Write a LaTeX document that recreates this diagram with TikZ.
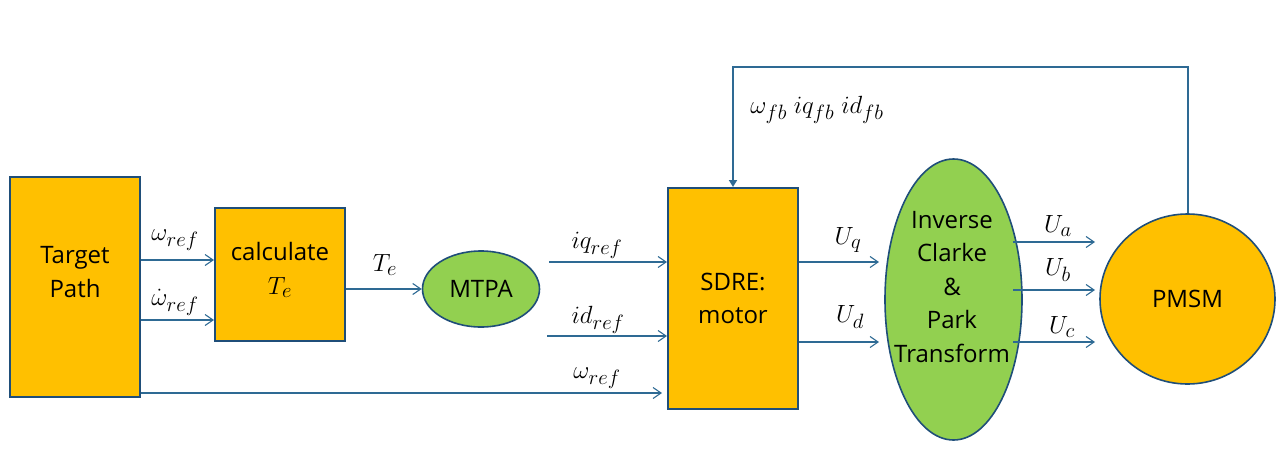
\documentclass[tikz,border=0pt]{standalone}
\usepackage{fontspec}
\setsansfont{Open Sans}
\usetikzlibrary{arrows.meta,shapes.geometric}
\definecolor{orng}{HTML}{FFC000}
\definecolor{grn}{HTML}{92D050}
\definecolor{navy}{HTML}{1F4E79}
\definecolor{arrc}{HTML}{2E6A94}
\begin{document}
\begin{tikzpicture}[x=1pt,y=-1pt,
  font=\sffamily\fontsize{24}{33.5}\selectfont,
  box/.style={draw=navy, line width=2pt, fill=orng, inner sep=0pt, align=center},
  oval/.style={ellipse, draw=navy, line width=1.6pt, inner sep=0pt, align=center},
  txt/.style={inner sep=0pt, align=center},
  arr/.style={draw=arrc, line width=1.1pt, -{Straight Barb[length=8pt,width=11pt]}},
  fbline/.style={draw=arrc, line width=2pt, -{Triangle[length=7pt,width=8pt]}},
  lbl/.style={inner sep=0pt, font=\Huge}]
\useasboundingbox (0,0) rectangle (1288,453);

% blocks
\node[box, minimum width=130pt, minimum height=220pt] (tp) at (75,287) {};
\node[txt] (tptext) at (75,272) {Target\\Path};
\node[box, minimum width=130pt, minimum height=133pt] (calc) at (280,274.5) {};
\node[txt] (calctext) at (280,270) {calculate\\{\Huge$T_e$}};
\node[oval, fill=grn, minimum width=117pt, minimum height=76pt] (mtpa) at (481,289) {MTPA};
\node[box, minimum width=130pt, minimum height=221pt] (sdre) at (733,298.5) {SDRE:\\motor};
\node[oval, fill=grn, minimum width=137pt, minimum height=281pt] (inv) at (953.5,299.5) {};
\node[txt] (invtext) at (952,287) {Inverse\\Clarke\\\&\\Park\\Transform};
\node[oval, fill=orng, minimum width=175pt, minimum height=170pt] (pmsm) at (1187.5,299) {PMSM};

% helper coordinates
\coordinate (r1) at (0,260);
\coordinate (r2) at (0,320);
\coordinate (w3end) at (662,393);
\coordinate (iqs) at (549,262);
\coordinate (ids) at (547,336);
\coordinate (uqe) at (879,262);
\coordinate (ude) at (879,342);
\coordinate (uas) at (1013,242);
\coordinate (ubs) at (1013,290);
\coordinate (ucs) at (1013,342);
\coordinate (uae) at (1095,242);
\coordinate (ube) at (1095,290);
\coordinate (uce) at (1095,342);

% connectors
\draw[arr] (tp.east |- r1) -- (calc.west |- r1);
\draw[arr] (tp.east |- r2) -- (calc.west |- r2);
\draw[arr] (tp.east |- w3end) -- (w3end);
\draw[arr] (calc.east |- mtpa) -- (mtpa.west);
\draw[arr] (iqs) -- (sdre.west |- iqs);
\draw[arr] (ids) -- (sdre.west |- ids);
\draw[arr] (sdre.east |- uqe) -- (uqe);
\draw[arr] (sdre.east |- ude) -- (ude);
\draw[arr] (uas) -- (uae);
\draw[arr] (ubs) -- (ube);
\draw[arr] (ucs) -- (uce);
\draw[fbline] (pmsm.north) -- ++(0,-146) -| (sdre.north);

% labels
\node[lbl] (l1) at (175,240) {$\omega_{ref}$};
\node[lbl] (l2) at (175,302) {$\dot\omega_{ref}$};
\node[lbl] (l3) at (385,265) {$T_e$};
\node[lbl] (l4) at (597,245) {$iq_{ref}$};
\node[lbl] (l5) at (598,320) {$id_{ref}$};
\node[lbl] (l6) at (597,378) {$\omega_{ref}$};
\node[lbl] (l7) at (848,240) {$U_q$};
\node[lbl] (l8) at (850,317) {$U_d$};
\node[lbl] (l9) at (817,110) {$\omega_{fb}\; iq_{fb}\; id_{fb}$};
\node[lbl] (l10) at (1058,226) {$U_a$};
\node[lbl] (l11) at (1058,270) {$U_b$};
\node[lbl] (l12) at (1062,327) {$U_c$};
\end{tikzpicture}
\end{document}
